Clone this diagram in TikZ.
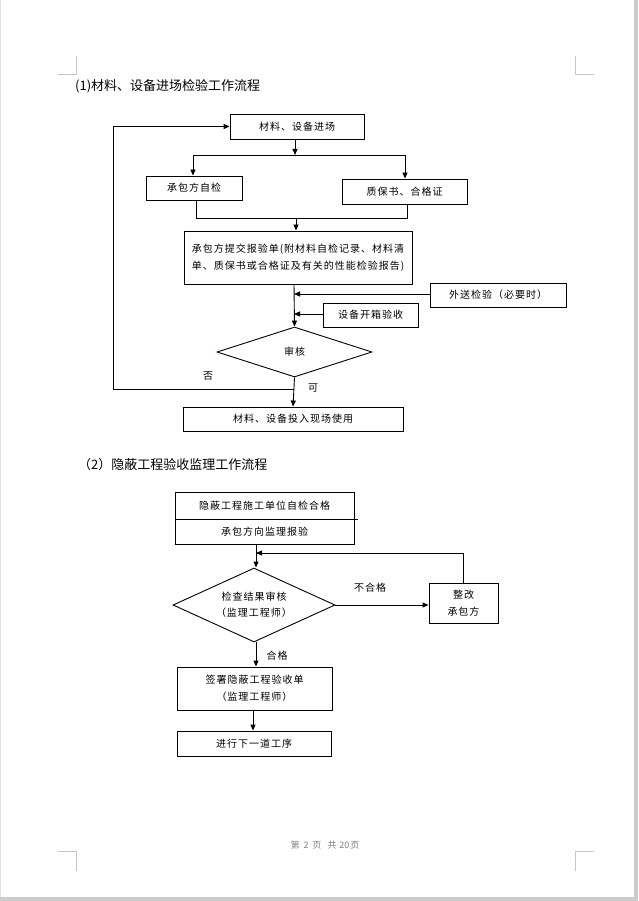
\documentclass[tikz,border=0pt]{standalone}
\usepackage{fontspec}
\setmainfont{Liberation Sans}
\newfontfamily\cjk[LetterSpace=10]{Noto Sans CJK SC}
\newfontfamily\cjkt{Noto Sans CJK SC}
\usetikzlibrary{arrows.meta,shapes.geometric}
\tikzset{
  box/.style={draw, line width=0.9pt, inner sep=0pt, align=center, font=\cjk\fontsize{10}{17}\selectfont},
  dia/.style={draw, diamond, line width=0.9pt, inner sep=0pt, align=center, font=\cjk\fontsize{10}{16}\selectfont},
  lbl/.style={inner sep=0pt, font=\cjk\fontsize{10}{12}\selectfont},
  ttl/.style={inner sep=0pt, anchor=west, font=\cjkt\fontsize{13}{15}\selectfont},
  conn/.style={line width=0.9pt},
  arr/.style={line width=0.9pt, -{Triangle[length=6pt,width=5pt]}},
  cornermark/.style={draw=gray!45, line width=0.8pt}
}
\begin{document}
\begin{tikzpicture}[x=1pt,y=-1pt]
\useasboundingbox (0,0) rectangle (638,901);
% page
\fill[white] (0,0) rectangle (638,901);
\fill[gray!40] (634,0) rectangle (638,901);
\fill[gray!40] (0,897) rectangle (638,901);
\draw[gray!25, line width=0.8pt] (0.5,0) -- (0.5,897);
% corner marks
\draw[cornermark] (58,74) -- (76,74) -- (76,56);
\draw[cornermark] (594,74) -- (575,74) -- (575,56);
\draw[cornermark] (58,851) -- (76,851) -- (76,871);
\draw[cornermark] (594,851) -- (575,851) -- (575,871);
% footer
\node[inner sep=0pt, text=gray, font=\cjkt\fontsize{9}{10}\selectfont] (footer) at (325,845)
  {第\hspace{4pt}2\hspace{4pt}页\hspace{6pt}共\hspace{3pt}20\hspace{1pt}页};

% ---------- section 1 ----------
\node[ttl] (t1) at (75,86) {(1)材料、设备进场检验工作流程};

\node[box, minimum width=134, minimum height=25] (b1) at (297,126.5) {材料、设备进场};
\node[box, minimum width=96, minimum height=24] (b2) at (194,188) {承包方自检};
\node[box, minimum width=125, minimum height=25] (b3) at (404.5,191.5) {质保书、合格证};
\node[box, minimum width=228, minimum height=53, align=left] (b4) at (298,257.5)
  {承包方提交报验单(附材料自检记录、材料清\\单、质保书或合格证及有关的性能检验报告)};
\node[box, minimum width=136, minimum height=24] (b5) at (498,295) {外送检验（必要时）};
\node[box, minimum width=95, minimum height=24] (b6) at (370.5,315) {设备开箱验收};
\node[dia, minimum width=155, minimum height=50, aspect=3.1] (d1) at (294.5,352) {审核};
\node[box, minimum width=220, minimum height=24] (b7) at (293,419) {材料、设备投入现场使用};

\coordinate (s1) at (295,155);
\coordinate (s1l) at (193,155);
\coordinate (s1r) at (405,155);
\draw[arr] (s1 |- b1.south) -- (s1);
\draw[conn] (s1l) -- (s1r);
\draw[arr] (s1l) -- (s1l |- b2.north);
\draw[arr] (s1r) -- (s1r |- b3.north);

\coordinate (j1l) at (196,218);
\coordinate (j1r) at (407,218);
\coordinate (j1) at (296,218);
\draw[conn] (j1l |- b2.south) -- (j1l) -- (j1r) -- (j1r |- b3.south);
\draw[arr] (j1) -- (j1 |- b4.north);

\coordinate (v1) at (294,294);
\coordinate (v2) at (294,314);
\draw[arr] (v1 |- b4.south) -- (d1.north);
\draw[arr] (b5.west |- v1) -- (v1);
\draw[arr] (b6.west |- v2) -- (v2);

\coordinate (lp) at (294,389);
\coordinate (lpl) at (113,389);
\draw[arr] (d1.south) -- (b7.north);
\draw[arr] (lp) -- (lpl) -- (lpl |- b1.west) -- (b1.west);
\node[lbl] (no1) at (208,376) {否};
\node[lbl] (ok1) at (313,388) {可};

% ---------- section 2 ----------
\node[ttl] (t2) at (78,465) {（2）隐蔽工程验收监理工作流程};

\node[box, minimum width=179, minimum height=27] (c1a) at (264.5,505.5) {隐蔽工程施工单位自检合格};
\node[box, minimum width=179, minimum height=25] (c1b) at (264.5,531.5) {承包方向监理报验};
\draw[conn] (c1a.south east) -- ++(4,0);
\node[dia, minimum width=162, minimum height=74, aspect=2.2] (d2) at (254,605) {检查结果审核\\（监理工程师）};
\node[box, minimum width=69, minimum height=40] (c2) at (463.5,603) {整改\\承包方};
\node[box, minimum width=155, minimum height=43] (c3) at (254.5,688.5) {签署隐蔽工程验收单\\（监理工程师）};
\node[box, minimum width=154, minimum height=25] (c4) at (254,743.5) {进行下一道工序};

\coordinate (w1) at (256,553);
\draw[arr] (w1 |- c1b.south) -- (w1 |- d2.north);
\draw[arr] (c2.north) -- (c2.north |- w1) -- (w1);
\draw[arr] (d2.east) -- (c2.west |- d2.east);
\draw[arr] (d2.south -| w1) -- (w1 |- c3.north);
\coordinate (w2) at (253,720);
\draw[arr] (w2 |- c3.south) -- (w2 |- c4.north);
\node[lbl] (ng) at (370,588) {不合格};
\node[lbl] (ok2) at (277,656) {合格};
\end{tikzpicture}
\end{document}
